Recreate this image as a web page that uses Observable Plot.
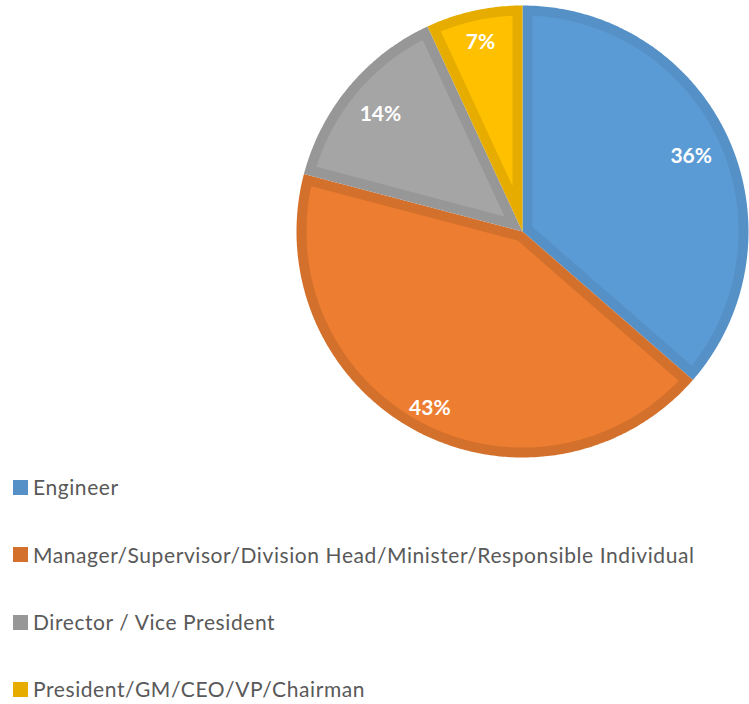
<!DOCTYPE html>
<html>
<head>
<meta charset="utf-8">
<script src="https://cdn.jsdelivr.net/npm/d3@7"></script>
<script src="https://cdn.jsdelivr.net/npm/@observablehq/plot@0.6"></script>
<style>
  html, body { margin: 0; padding: 0; background: #fff; }
  #chart svg { display: block; }
  #legend { position: absolute; left: 13px; top: 469px; font-family: Lato, sans-serif; font-size: 21px; color: #595959; letter-spacing: 0.585px; }
  .row { position: absolute; left: 0; height: 36px; line-height: 36px; white-space: nowrap; display: flex; align-items: center; }
  .sw { width: 15px; height: 15px; margin-right: 5px; flex: none; }
</style>
</head>
<body>
<div id="chart"></div>
<div id="legend"></div>
<script>
const categories = ["Engineer", "Manager/Supervisor/Division Head/Minister/Responsible Individual", "Director / Vice President", "President/GM/CEO/VP/Chairman"];
const shares = [36.4, 42.7, 14.0, 6.9];
const labels = ["36%", "43%", "14%", "7%"];
const labelRadius = [0.82, 0.876, 0.82, 0.866];
const fills = ["#5B9BD5", "#ED7D31", "#A5A5A5", "#FFC000"];
const borders = ["#5590C6", "#D3702B", "#979797", "#E6AD00"];

const R = 226, inset = 10 / R;
const arcs = d3.pie().sort(null).value(d => d)(shares);
const polar = (a, r) => ({x: r * Math.sin(a), y: r * Math.cos(a)});

function arcPoints(a0, a1, r) {
  const n = Math.max(2, Math.ceil((a1 - a0) * 90));
  return d3.range(n + 1).map(i => polar(a0 + (a1 - a0) * i / n, r));
}
const outerSlice = s => [{x: 0, y: 0}, ...arcPoints(s.startAngle, s.endAngle, 1)];
function innerSlice(s) {
  const half = (s.endAngle - s.startAngle) / 2;
  const mid = (s.startAngle + s.endAngle) / 2;
  const ri = 1 - inset;
  const da = Math.asin(inset / ri);
  return [polar(mid, inset / Math.sin(half)), ...arcPoints(s.startAngle + da, s.endAngle - da, ri)];
}

const labelData = arcs.map((s, i) => ({
  ...polar((s.startAngle + s.endAngle) / 2, labelRadius[i]),
  text: labels[i]
}));

const marks = [];
arcs.forEach((s, i) => {
  marks.push(Plot.line(outerSlice(s), {x: "x", y: "y", fill: borders[i], stroke: "none"}));
  marks.push(Plot.line(innerSlice(s), {x: "x", y: "y", fill: fills[i], stroke: "none"}));
});
marks.push(Plot.text(labelData, {
  x: "x", y: "y", text: "text", fill: "#fff", dy: 2,
  fontSize: 21, fontWeight: 700, fontFamily: "Lato, sans-serif"
}));

const chart = Plot.plot({
  width: 749, height: 470,
  margin: 0,
  style: {background: "transparent"},
  x: {axis: null, domain: [-1, 1], range: [522 - R, 522 + R]},
  y: {axis: null, domain: [-1, 1], range: [231 + R, 231 - R]},
  marks
});
document.getElementById("chart").appendChild(chart);

const legend = document.getElementById("legend");
const rowTops = [0, 67.5, 135, 202];
categories.forEach((c, i) => {
  const row = document.createElement("div");
  row.className = "row";
  row.style.top = rowTops[i] + "px";
  const sw = document.createElement("span");
  sw.className = "sw";
  sw.style.background = borders[i];
  row.appendChild(sw);
  row.appendChild(document.createTextNode(c));
  legend.appendChild(row);
});
</script>
</body>
</html>
